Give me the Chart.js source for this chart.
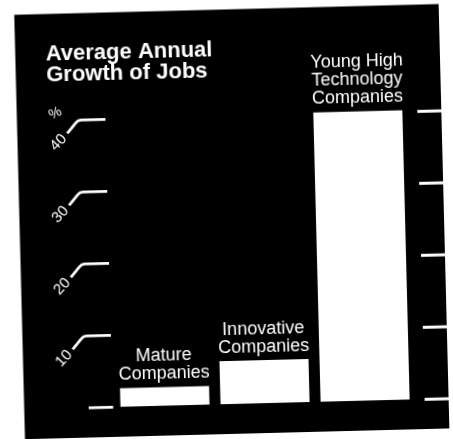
<!DOCTYPE html>
<html>
<head>
<meta charset="utf-8">
<script src="https://cdn.jsdelivr.net/npm/chart.js@4/dist/chart.umd.min.js"></script>
<style>
html,body{margin:0;padding:0;background:#fff;overflow:hidden;width:453px;height:439px}
canvas{display:block;transform:rotate(-1.45deg);transform-origin:226.5px 219.5px}
</style>
</head>
<body>
<canvas id="c" width="453" height="439"></canvas>
<script>
// ---- data ----
const titleLines = ["Average Annual", "Growth of Jobs"];
const categories = [["Mature", "Companies"], ["Innovative", "Companies"], ["Young High", "Technology", "Companies"]];
const growthPct = [2.6, 6.0, 40.2];
const yTickValues = [0, 10, 20, 30, 40];
const yTickLabels = ["", "10", "20", "30", "40"];
const yUnit = "%";

const FONT = '"Liberation Sans", Arial, Helvetica, sans-serif';

const panelPlugin = {
  id: 'panel',
  beforeDraw(chart) {
    const ctx = chart.ctx;
    ctx.save();
    ctx.fillStyle = '#fff';
    ctx.fillRect(0, 0, chart.width, chart.height);
    ctx.fillStyle = '#000';
    ctx.fillRect(19.5, 9.5, 424.5, 424.5);
    ctx.restore();
  }
};

const decorPlugin = {
  id: 'decor',
  afterDraw(chart) {
    const ctx = chart.ctx;
    const ys = chart.scales.y;
    ctx.save();
    ctx.fillStyle = '#fff';
    ctx.strokeStyle = '#fff';

    // title
    ctx.font = 'bold 22px ' + FONT;
    ctx.textAlign = 'left';
    ctx.textBaseline = 'alphabetic';
    titleLines.forEach((t, i) => ctx.fillText(t, 50, 55.5 + i * 21.8));

    // ticks
    yTickValues.forEach((v, i) => {
      const y = ys.getPixelForValue(v);
      ctx.lineWidth = 2.8;
      ctx.lineCap = 'butt';
      ctx.lineJoin = 'round';
      ctx.beginPath();
      if (v === 0) {
        ctx.moveTo(84, y);
        ctx.lineTo(108.5, y);
      } else {
        ctx.moveTo(69.5, y + 13);
        ctx.lineTo(78.5, y + 2.5);
        ctx.quadraticCurveTo(80.5, y, 83.5, y);
        ctx.lineTo(108, y);
      }
      ctx.stroke();
      // right-hand tick
      ctx.lineWidth = 3;
      ctx.beginPath();
      ctx.moveTo(420, y);
      ctx.lineTo(444, y);
      ctx.stroke();
      // label
      const lab = yTickLabels[i];
      if (lab) {
        ctx.save();
        ctx.translate(60.5, y + 22);
        ctx.rotate(-Math.PI / 4);
        ctx.font = '15px ' + FONT;
        ctx.textAlign = 'center';
        ctx.textBaseline = 'middle';
        ctx.fillText(lab, 0, 0);
        ctx.restore();
      }
    });
    // unit
    const yTop = ys.getPixelForValue(yTickValues[yTickValues.length - 1]);
    ctx.save();
    ctx.translate(58, yTop - 7);
    ctx.rotate(-0.42);
    ctx.font = '14px ' + FONT;
    ctx.textAlign = 'center';
    ctx.textBaseline = 'middle';
    ctx.fillText(yUnit, 0, 0);
    ctx.restore();

    // category labels above bars
    const meta = chart.getDatasetMeta(0);
    ctx.font = '18px ' + FONT;
    ctx.textAlign = 'center';
    ctx.textBaseline = 'alphabetic';
    meta.data.forEach((bar, i) => {
      const lines = chart.data.labels[i];
      const n = lines.length;
      lines.forEach((ln, k) => {
        ctx.fillText(ln, bar.x, bar.y - 8.5 - (n - 1 - k) * 18);
      });
    });
    ctx.restore();
  }
};

new Chart(document.getElementById('c'), {
  type: 'bar',
  data: {
    labels: categories,
    datasets: [{
      data: growthPct,
      backgroundColor: '#fff',
      borderWidth: 0,
      barPercentage: 0.89,
      categoryPercentage: 1.0
    }]
  },
  options: {
    responsive: false,
    animation: false,
    devicePixelRatio: 1,
    layout: { padding: { left: 110.25, right: 42.45, top: 80.3, bottom: 34.7 } },
    plugins: { legend: { display: false }, tooltip: { enabled: false }, title: { display: false } },
    scales: {
      x: { display: false },
      y: { display: false, min: 0, max: 45 }
    }
  },
  plugins: [panelPlugin, decorPlugin]
});
</script>
</body>
</html>
